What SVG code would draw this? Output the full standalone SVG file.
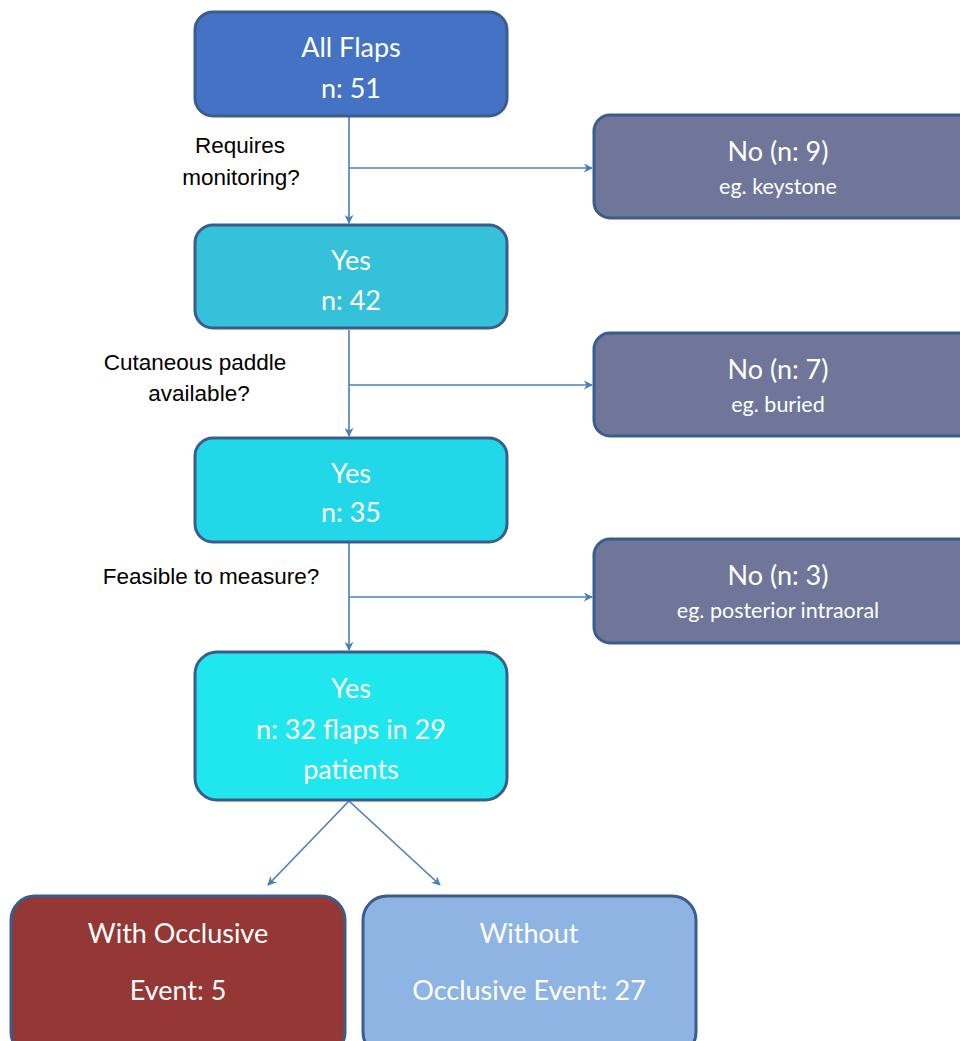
<svg xmlns="http://www.w3.org/2000/svg" width="960" height="1041" viewBox="0 0 960 1041">
<style>
.box{stroke:#3a5d8c;stroke-width:3}
.t{font-family:Lato,"Open Sans",sans-serif;fill:#ffffff;text-anchor:middle}
.big{font-size:27px}
.small{font-size:21.5px}
.q{font-family:"Liberation Sans",Arial,sans-serif;font-size:22.5px;fill:#000;text-anchor:middle}
.c{stroke:#4a7ebb;stroke-width:1.6;fill:none}
</style>
<defs>
<marker id="ah" viewBox="0 0 10 10" refX="9" refY="5" markerWidth="9" markerHeight="9" markerUnits="userSpaceOnUse" orient="auto">
<path d="M0,0 L10,5 L0,10 L3,5 Z" fill="#4a7ebb"/>
</marker>
</defs>
<rect width="960" height="1041" fill="#ffffff"/>
<g id="connectors">
<line class="c" x1="349" y1="117" x2="349" y2="223" marker-end="url(#ah)"/>
<line class="c" x1="349" y1="168" x2="592" y2="168" marker-end="url(#ah)"/>
<line class="c" x1="349" y1="330" x2="349" y2="436" marker-end="url(#ah)"/>
<line class="c" x1="349" y1="385" x2="592" y2="385" marker-end="url(#ah)"/>
<line class="c" x1="349" y1="543" x2="349" y2="650" marker-end="url(#ah)"/>
<line class="c" x1="349" y1="597" x2="592" y2="597" marker-end="url(#ah)"/>
<line class="c" x1="349" y1="801" x2="268" y2="885" marker-end="url(#ah)"/>
<line class="c" x1="349" y1="801" x2="440" y2="885" marker-end="url(#ah)"/>
</g>
<g id="q1"><text class="q" x="240" y="153">Requires</text><text class="q" x="241" y="185">monitoring?</text></g>
<g id="q2"><text class="q" x="195" y="370">Cutaneous paddle</text><text class="q" x="199" y="401">available?</text></g>
<g id="q3"><text class="q" x="211" y="584">Feasible to measure?</text></g>
<g id="all">
<rect class="box" x="195" y="12" width="312" height="104" rx="18" fill="#4472c4"/>
<text class="t big" x="351" y="57">All Flaps</text>
<text class="t big" x="351" y="98">n: 51</text>
</g>
<g id="no9">
<rect class="box" x="594" y="115" width="380" height="103" rx="16" fill="#6f7699"/>
<text class="t big" x="778" y="161">No (n: 9)</text>
<text class="t small" x="778" y="194">eg. keystone</text>
</g>
<g id="yes42">
<rect class="box" x="195" y="225" width="312" height="103" rx="18" fill="#34c1d9"/>
<text class="t big" x="351" y="270">Yes</text>
<text class="t big" x="351" y="310">n: 42</text>
</g>
<g id="no7">
<rect class="box" x="594" y="333" width="380" height="103" rx="16" fill="#6f7699"/>
<text class="t big" x="778" y="379">No (n: 7)</text>
<text class="t small" x="778" y="412">eg. buried</text>
</g>
<g id="yes35">
<rect class="box" x="195" y="438" width="312" height="104" rx="18" fill="#22d8e8"/>
<text class="t big" x="351" y="483">Yes</text>
<text class="t big" x="351" y="522">n: 35</text>
</g>
<g id="no3">
<rect class="box" x="594" y="539" width="380" height="104" rx="16" fill="#6f7699"/>
<text class="t big" x="778" y="585">No (n: 3)</text>
<text class="t small" x="778" y="618">eg. posterior intraoral</text>
</g>
<g id="yes32">
<rect class="box" x="195" y="652" width="312" height="148" rx="22" fill="#20e6ee"/>
<text class="t big" x="351" y="698">Yes</text>
<text class="t big" x="351" y="739">n: 32 flaps in 29</text>
<text class="t big" x="351" y="779">patients</text>
</g>
<g id="with">
<rect class="box" x="11" y="896" width="334" height="160" rx="24" fill="#953735"/>
<text class="t big" x="178" y="943">With Occlusive</text>
<text class="t big" x="178" y="1000">Event: 5</text>
</g>
<g id="without">
<rect class="box" x="363" y="896" width="333" height="160" rx="24" fill="#8eb4e3"/>
<text class="t big" x="529" y="943">Without</text>
<text class="t big" x="529" y="1000">Occlusive Event: 27</text>
</g>
</svg>
